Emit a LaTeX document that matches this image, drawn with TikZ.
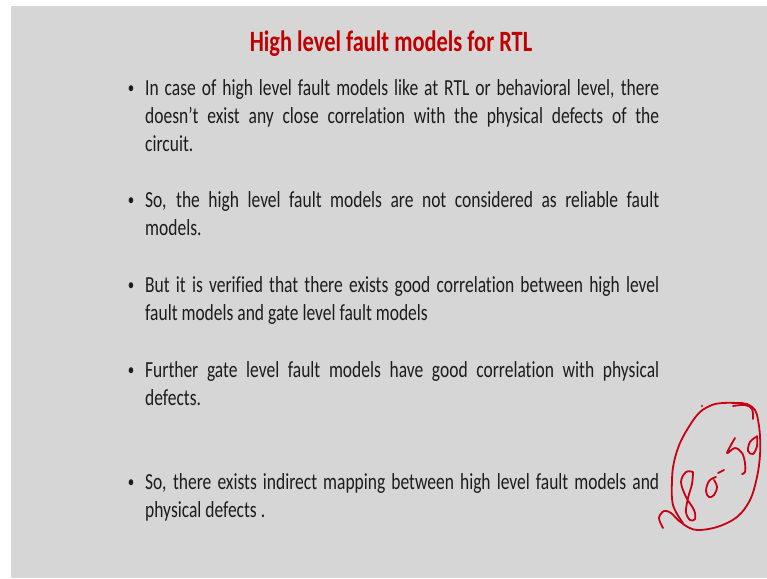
\documentclass[tikz,border=0pt]{standalone}
\usepackage{fontspec}
\setmainfont{Carlito}[FakeStretch=0.76, Ligatures=NoCommon]
\definecolor{slidebg}{RGB}{214,214,214}
\definecolor{titlered}{RGB}{192,0,0}
\definecolor{bodytext}{RGB}{28,28,28}
\definecolor{ink}{RGB}{200,0,20}
\tikzset{
  slidetitle/.style={anchor=base, inner sep=0pt, text=titlered,
    font=\fontsize{29.5}{34}\selectfont\bfseries},
  bullettext/.style={anchor=north west, inner sep=0pt, text width=514pt,
    align=justify, text=bodytext, font=\fontsize{23}{28}\selectfont},
  pen/.style={draw=ink, line width=1.8pt, line cap=round, line join=round}
}
\newcommand{\bul}{\strut\llap{\raisebox{2pt}{\fontsize{17}{17}\selectfont•}\hspace{11pt}}}
\begin{document}
\begin{tikzpicture}[x=1pt,y=-1pt]
  % page and slide area
  \fill[white] (0,0) rectangle (767,578);
  \fill[slidebg] (11,6) rectangle (767,578);
  \useasboundingbox (0,0) rectangle (767,578);

  % title
  \node[slidetitle] (title) at (391,52) {High level fault models for RTL};

  % bullet points (baseline of first line minus strut height)
  \node[bullettext] (b1) at (145,75.4) {\bul In case of high level fault models like at RTL or behavioral level, there\linebreak
    doesn’t exist any close correlation with the physical defects of the\linebreak
    circuit.};
  \node[bullettext] (b2) at (145,187.4) {\bul So, the high level fault models are not considered as reliable fault\linebreak
    models.};
  \node[bullettext] (b3) at (145,272.4) {\bul But it is verified that there exists good correlation between high level\linebreak
    fault models and gate level fault models};
  \node[bullettext] (b4) at (145,357.4) {\bul Further gate level fault models have good correlation with physical\linebreak
    defects.};
  \node[bullettext] (b5) at (145,469.4) {\bul So, there exists indirect mapping between high level fault models and\linebreak
    physical defects .};

  % hand-written annotation
  \draw[pen] plot[smooth, tension=0.6] coordinates {
    (686,526) (678,520) (671,513) (664,511) (659,518) (663,528)};
  \draw[pen] plot[smooth, tension=0.6] coordinates {
    (686,526) (697,530) (717,527) (737,517) (750,500) (757,477) (760,455)
    (760,436) (758,420) (755,410) (747,404) (737,403) (723,403) (712,405)
    (700,412) (690,425) (680,443) (674,462) (672,480) (673,505) (683,523)};
  \fill[ink] (702,406) circle (1.1pt);
  \draw[pen] plot[smooth, tension=0.6] coordinates {
    (733,406) (745,405) (752,409) (753,419)};
  \draw[pen] plot[smooth, tension=0.6] coordinates {
    (693,472) (686,472) (681,482) (686,497) (694,510) (695,519) (690,520)
    (686,512) (688,498) (692,484) (693,472)};
  \draw[pen] plot[smooth, tension=0.6] coordinates {
    (716,477) (709,481) (706,491) (709,497) (714,495) (717,487) (714,480)};
  \draw[pen] (718,473) -- (724,470);
  \draw[pen] plot[smooth, tension=0.6] coordinates {
    (735,438) (727,453) (735,448) (742,453) (745,463) (745,472) (742,474)};
  \draw[pen] plot[smooth, tension=0.6] coordinates {
    (756,437) (750,442) (748,451) (753,454) (757,446) (757,436)};
\end{tikzpicture}
\end{document}
